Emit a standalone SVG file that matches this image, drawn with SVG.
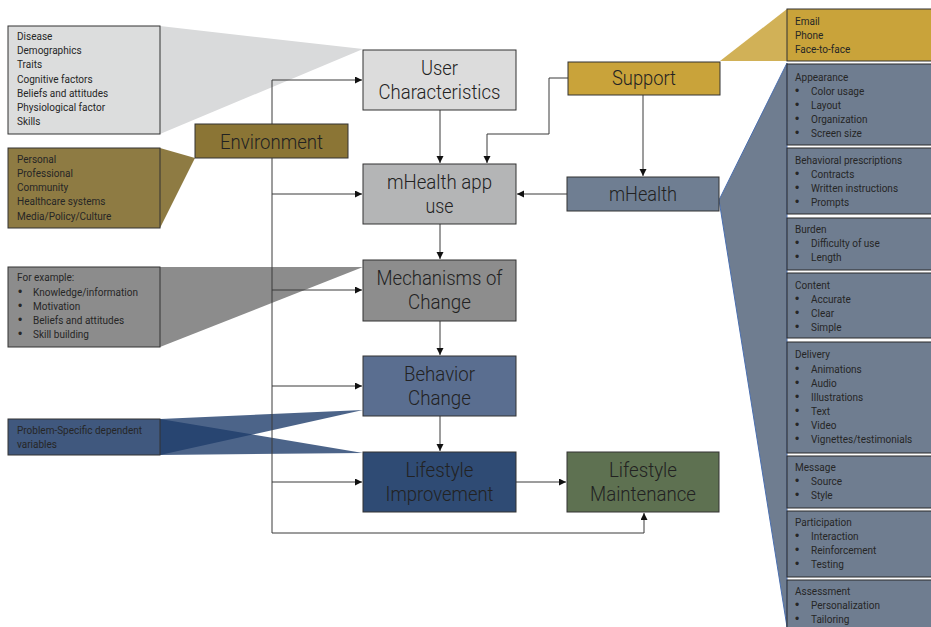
<svg xmlns="http://www.w3.org/2000/svg" width="931" height="627" viewBox="0 0 931 627">
  <defs>
    <marker id="arrow" markerUnits="userSpaceOnUse" markerWidth="8" markerHeight="8" refX="7" refY="3.5" orient="auto">
      <path d="M0,0 L7,3.5 L0,7 z" fill="#111"/>
    </marker>
    <style>
      .node { stroke: #333; stroke-width: 1; }
      .big { font-family: Roboto, "Liberation Sans", sans-serif; font-weight: 300; font-size: 21px; fill: #222; text-anchor: middle; }
      .small { font-family: Roboto, "Liberation Sans", sans-serif; font-size: 10px; fill: #262626; }
      .dot { font-family: "Liberation Sans", sans-serif; font-size: 12px; fill: #262626; }
      .edge { fill: none; stroke: #3a3a3a; stroke-width: 1; }
      .col { fill: #6f7d90; stroke: #2b2b2b; stroke-width: 1; }
    </style>
  </defs>
  <rect width="931" height="627" fill="#fff"/>

  <!-- call-out wedges -->
  <g id="wedges">
    <polygon points="160,26 363,49 160,134" fill="#d9dadb"/>
    <polygon points="160,148 195,158 160,228" fill="#8e7b43"/>
    <polygon points="160,267 363,267 160,347" fill="#8c8c8c"/>
    <polygon points="160,419 363,410 160,455" fill="#1f3d6b" opacity="0.8"/>
    <polygon points="160,419 363,453 160,455" fill="#1f3d6b" opacity="0.8"/>
    <polygon points="720,61 787,9 787,61" fill="#c9a33a" opacity="0.85"/>
    <polygon points="719,200 787,63 787,627" fill="#6f7d90" stroke="#4a6fb0" stroke-width="1"/>
  </g>

  <!-- connectors -->
  <g id="connectors">
    <path class="edge" d="M272,80 L272,533 L644,533 L644,513" marker-end="url(#arrow)"/>
    <path class="edge" d="M272,80 L362,80" marker-end="url(#arrow)"/>
    <path class="edge" d="M272,194 L362,194" marker-end="url(#arrow)"/>
    <path class="edge" d="M272,290 L362,290" marker-end="url(#arrow)"/>
    <path class="edge" d="M272,386 L362,386" marker-end="url(#arrow)"/>
    <path class="edge" d="M272,482 L362,482" marker-end="url(#arrow)"/>
    <path class="edge" d="M440,110 L440,163" marker-end="url(#arrow)"/>
    <path class="edge" d="M568,78 L549,78 L549,134 L487,134 L487,163" marker-end="url(#arrow)"/>
    <path class="edge" d="M643,95 L643,176" marker-end="url(#arrow)"/>
    <path class="edge" d="M567,194 L517,194" marker-end="url(#arrow)"/>
    <path class="edge" d="M440,224 L440,259" marker-end="url(#arrow)"/>
    <path class="edge" d="M440,321 L440,355" marker-end="url(#arrow)"/>
    <path class="edge" d="M440,416 L440,451" marker-end="url(#arrow)"/>
    <path class="edge" d="M516,482 L566,482" marker-end="url(#arrow)"/>
  </g>

  <!-- left detail boxes -->
  <g id="user-details">
    <rect class="node" x="8" y="26" width="152" height="108" fill="#dcdddd"/>
    <text class="small" x="17" y="40">Disease</text>
    <text class="small" x="17" y="54">Demographics</text>
    <text class="small" x="17" y="68">Traits</text>
    <text class="small" x="17" y="83">Cognitive factors</text>
    <text class="small" x="17" y="97">Beliefs and attitudes</text>
    <text class="small" x="17" y="111">Physiological  factor</text>
    <text class="small" x="17" y="125">Skills</text>
  </g>
  <g id="environment-details">
    <rect class="node" x="8" y="148" width="152" height="80" fill="#8e7b43"/>
    <text class="small" x="17" y="163">Personal</text>
    <text class="small" x="17" y="177">Professional</text>
    <text class="small" x="17" y="191">Community</text>
    <text class="small" x="17" y="205">Healthcare systems</text>
    <text class="small" x="17" y="220">Media/Policy/Culture</text>
  </g>
  <g id="mechanism-details">
    <rect class="node" x="8" y="267" width="152" height="80" fill="#8c8c8c"/>
    <text class="small" x="17" y="281">For example:</text>
    <text class="dot" x="18" y="296">•</text><text class="small" x="33" y="296">Knowledge/information</text>
    <text class="dot" x="18" y="310">•</text><text class="small" x="33" y="310">Motivation</text>
    <text class="dot" x="18" y="324">•</text><text class="small" x="33" y="324">Beliefs and attitudes</text>
    <text class="dot" x="18" y="338">•</text><text class="small" x="33" y="338">Skill building</text>
  </g>
  <g id="outcome-details">
    <rect class="node" x="8" y="419" width="152" height="36" fill="#40587e"/>
    <text class="small" x="17" y="434">Problem-Specific  dependent</text>
    <text class="small" x="17" y="448">variables</text>
  </g>

  <!-- main nodes -->
  <g id="environment">
    <rect class="node" x="195" y="124" width="153" height="34" fill="#8b7535"/>
    <text class="big" x="271.5" y="149" textLength="103" lengthAdjust="spacingAndGlyphs">Environment</text>
  </g>
  <g id="user-characteristics">
    <rect class="node" x="363" y="50" width="153" height="60" fill="#dcdcdc"/>
    <text class="big" x="439.5" y="75" textLength="37" lengthAdjust="spacingAndGlyphs">User</text>
    <text class="big" x="439.5" y="99" textLength="122" lengthAdjust="spacingAndGlyphs">Characteristics</text>
  </g>
  <g id="app-use">
    <rect class="node" x="363" y="164" width="153" height="60" fill="#b4b5b6"/>
    <text class="big" x="439.5" y="189" textLength="105" lengthAdjust="spacingAndGlyphs">mHealth app</text>
    <text class="big" x="439.5" y="213" textLength="28" lengthAdjust="spacingAndGlyphs">use</text>
  </g>
  <g id="mechanisms">
    <rect class="node" x="363" y="260" width="153" height="61" fill="#8d8d8d"/>
    <text class="big" x="439.5" y="285" textLength="126" lengthAdjust="spacingAndGlyphs">Mechanisms of</text>
    <text class="big" x="439.5" y="309" textLength="63" lengthAdjust="spacingAndGlyphs">Change</text>
  </g>
  <g id="behavior-change">
    <rect class="node" x="363" y="356" width="153" height="60" fill="#5a6e90"/>
    <text class="big" x="439.5" y="381" textLength="71" lengthAdjust="spacingAndGlyphs">Behavior</text>
    <text class="big" x="439.5" y="405" textLength="63" lengthAdjust="spacingAndGlyphs">Change</text>
  </g>
  <g id="lifestyle-improvement">
    <rect class="node" x="363" y="452" width="153" height="60" fill="#2f4b74"/>
    <text class="big" x="439.5" y="477" textLength="68" lengthAdjust="spacingAndGlyphs">Lifestyle</text>
    <text class="big" x="439.5" y="501" textLength="108" lengthAdjust="spacingAndGlyphs">Improvement</text>
  </g>
  <g id="lifestyle-maintenance">
    <rect class="node" x="567" y="452" width="152" height="60" fill="#5e7151"/>
    <text class="big" x="643" y="477" textLength="68" lengthAdjust="spacingAndGlyphs">Lifestyle</text>
    <text class="big" x="643" y="501" textLength="106" lengthAdjust="spacingAndGlyphs">Maintenance</text>
  </g>
  <g id="support">
    <rect class="node" x="568" y="62" width="152" height="33" fill="#c9a33a"/>
    <text class="big" x="644" y="85" textLength="64" lengthAdjust="spacingAndGlyphs">Support</text>
  </g>
  <g id="mhealth">
    <rect class="node" x="567" y="177" width="152" height="34" fill="#6f7e92"/>
    <text class="big" x="643" y="201" textLength="68" lengthAdjust="spacingAndGlyphs">mHealth</text>
  </g>

  <!-- right detail column -->
  <g id="support-details">
    <rect class="node" x="787" y="9" width="150" height="52" fill="#c9a33a"/>
    <text class="small" x="795" y="25">Email</text>
    <text class="small" x="795" y="39">Phone</text>
    <text class="small" x="795" y="53">Face-to-face</text>
  </g>
  <g id="appearance">
    <rect class="col" x="787" y="64" width="150" height="81"/>
    <text class="small" x="795" y="81">Appearance</text>
    <text class="dot" x="795" y="95">•</text><text class="small" x="811" y="95">Color usage</text>
    <text class="dot" x="795" y="109">•</text><text class="small" x="811" y="109">Layout</text>
    <text class="dot" x="795" y="123">•</text><text class="small" x="811" y="123">Organization</text>
    <text class="dot" x="795" y="137">•</text><text class="small" x="811" y="137">Screen size</text>
  </g>
  <g id="behavioral-prescriptions">
    <rect class="col" x="787" y="148" width="150" height="66"/>
    <text class="small" x="795" y="164">Behavioral prescriptions</text>
    <text class="dot" x="795" y="178">•</text><text class="small" x="811" y="178">Contracts</text>
    <text class="dot" x="795" y="192">•</text><text class="small" x="811" y="192">Written instructions</text>
    <text class="dot" x="795" y="206">•</text><text class="small" x="811" y="206">Prompts</text>
  </g>
  <g id="burden">
    <rect class="col" x="787" y="218" width="150" height="52"/>
    <text class="small" x="795" y="233">Burden</text>
    <text class="dot" x="795" y="247">•</text><text class="small" x="811" y="247">Difficulty of use</text>
    <text class="dot" x="795" y="261">•</text><text class="small" x="811" y="261">Length</text>
  </g>
  <g id="content">
    <rect class="col" x="787" y="273" width="150" height="65"/>
    <text class="small" x="795" y="289">Content</text>
    <text class="dot" x="795" y="303">•</text><text class="small" x="811" y="303">Accurate</text>
    <text class="dot" x="795" y="317">•</text><text class="small" x="811" y="317">Clear</text>
    <text class="dot" x="795" y="331">•</text><text class="small" x="811" y="331">Simple</text>
  </g>
  <g id="delivery">
    <rect class="col" x="787" y="342" width="150" height="111"/>
    <text class="small" x="795" y="358">Delivery</text>
    <text class="dot" x="795" y="373">•</text><text class="small" x="811" y="373">Animations</text>
    <text class="dot" x="795" y="387">•</text><text class="small" x="811" y="387">Audio</text>
    <text class="dot" x="795" y="401">•</text><text class="small" x="811" y="401">Illustrations</text>
    <text class="dot" x="795" y="415">•</text><text class="small" x="811" y="415">Text</text>
    <text class="dot" x="795" y="429">•</text><text class="small" x="811" y="429">Video</text>
    <text class="dot" x="795" y="443">•</text><text class="small" x="811" y="443">Vignettes/testimonials</text>
  </g>
  <g id="message">
    <rect class="col" x="787" y="456" width="150" height="52"/>
    <text class="small" x="795" y="471">Message</text>
    <text class="dot" x="795" y="485">•</text><text class="small" x="811" y="485">Source</text>
    <text class="dot" x="795" y="499">•</text><text class="small" x="811" y="499">Style</text>
  </g>
  <g id="participation">
    <rect class="col" x="787" y="511" width="150" height="66"/>
    <text class="small" x="795" y="526">Participation</text>
    <text class="dot" x="795" y="540">•</text><text class="small" x="811" y="540">Interaction</text>
    <text class="dot" x="795" y="554">•</text><text class="small" x="811" y="554">Reinforcement</text>
    <text class="dot" x="795" y="568">•</text><text class="small" x="811" y="568">Testing</text>
  </g>
  <g id="assessment">
    <rect class="col" x="787" y="580" width="150" height="60"/>
    <text class="small" x="795" y="595">Assessment</text>
    <text class="dot" x="795" y="609">•</text><text class="small" x="811" y="609">Personalization</text>
    <text class="dot" x="795" y="623">•</text><text class="small" x="811" y="623">Tailoring</text>
  </g>
</svg>
